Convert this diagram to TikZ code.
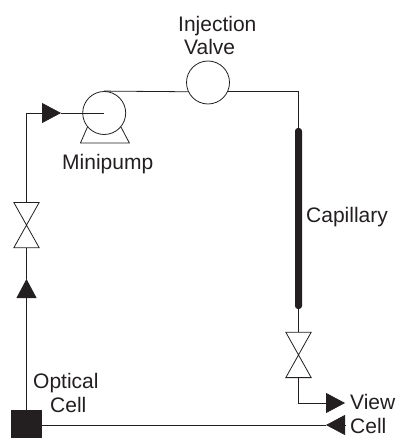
\documentclass[tikz,border=0pt]{standalone}
\usepackage{fontspec}
\setmainfont{Liberation Sans}
\usepackage{xcolor}
\usetikzlibrary{positioning,arrows.meta}
\definecolor{cink}{RGB}{35,31,32}

\begin{document}
\begin{tikzpicture}[
  x=1pt,y=-1pt,
  font=\fontsize{21}{23.5}\selectfont,
  text=cink,
  pipe/.style={draw=cink,line width=0.8pt},
  flow/.style={-{Triangle[length=19pt,width=20pt]},cink},
  r/.style={circle,draw=cink,line width=0.8pt,fill=white,inner sep=0,minimum size=43pt},
  vlv/.style={rectangle,inner sep=0,minimum width=25pt,minimum height=45pt},
  lbl/.style={inner sep=0,align=left},
]
\useasboundingbox (0,0) rectangle (398,438);
\node[rectangle,fill=cink,inner sep=0,minimum width=31pt,minimum height=28pt] (cell) at (26.5,424){};
\node[vlv,above=162pt of cell] (v1){};
\node[r] (inj) at (208,82.5){};
\node[r,left=60pt of inj,yshift=-30.5pt] (pump){};
\node[rectangle,fill=cink,rounded corners=3pt,inner sep=0,minimum width=7pt,minimum height=181pt] (cap) at (298.5,218.5){};
\node[vlv,below=23pt of cap] (v2){};
\coordinate (ta) at (61,113); \coordinate (tb) at (26.5,279);
\coordinate (tc) at (345,403); \coordinate (td) at (326,425); \coordinate (te) at (345,425);
% --- pipe run, arrow heads sit part way along it ---
\draw[pipe,flow] (cell.north)--(tb); \draw[pipe] (tb)--(v1.south);
\draw[pipe,flow] (v1.north)|-(ta); \draw[pipe] (ta)--(pump.center);
\draw[pipe] (pump.north)--(inj.205); \draw[pipe] (inj.335)-|(cap.north);
\draw[pipe] (cap.south)--(v2.north);
\draw[pipe,flow] (v2.south)|-(tc);
\draw[pipe,flow] (te)--(td); \draw[pipe] (td)--(cell.east |- td);
% --- valves and pump stand ---
\foreach \v in {v1,v2}
  \draw[pipe] (\v.north west)--(\v.south east)--(\v.south west)--(\v.north east)--cycle;
\draw[pipe] (pump.220)--++(-7,16)--++(49,0)--(pump.320);
\node[lbl,anchor=base west] (tinj) at (178,55){Injection\\\hspace*{6pt}Valve};
\node[lbl,anchor=base west] (tmin) at (62,170){Minipump};
\node[lbl,anchor=base west] (tcap) at (306,222){Capillary};
\node[lbl,anchor=base west] (topt) at (33,412){Optical\\\hspace*{17pt}Cell};
\node[lbl,anchor=base west] (tvie) at (350,433){View\\Cell};
\end{tikzpicture}
\end{document}
